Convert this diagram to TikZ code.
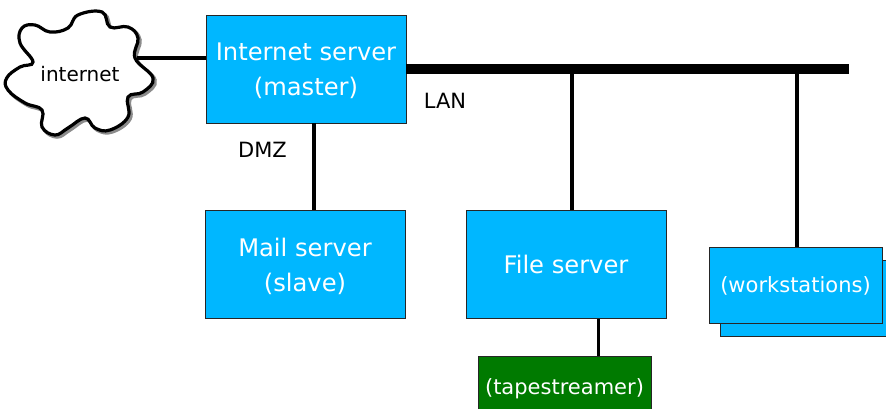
\documentclass[tikz,border=0pt]{standalone}
\usepackage{fontspec}
\setmainfont{DejaVu Sans}
\usetikzlibrary{positioning}
\definecolor{boxblue}{RGB}{0,183,255}
\definecolor{tapegreen}{RGB}{0,122,0}
\newcommand{\cloudpath}{(6.7,78) (20,67) (33,62) (20,43) (22,28) (35,25) (50,32) (68,28) (78,15) (102,12) (110,27) (128,27) (138,38) (135,58) (153,78) (143,92) (128,97) (128,117) (110,130) (95,128) (85,118) (68,128) (55,135) (42,127) (42,110) (25,103) (8,90)}
\begin{document}
\begin{tikzpicture}[x=1pt,y=-1pt]
    \tikzstyle{server} = [rectangle, draw=black!85, fill=boxblue, text=white,
    minimum width=200pt, minimum height=108pt, inner sep=0pt, text depth=0pt,
    font=\fontsize{24.2}{35}\selectfont, align=center]
    \tikzstyle{small} = [rectangle, draw=black!85, text=white,
    minimum width=173pt, inner sep=0pt, text depth=0pt,
    font=\fontsize{21}{25}\selectfont, align=center]
    \tikzstyle{label} = [font=\fontsize{21}{25}\selectfont, inner sep=0pt]
    \tikzstyle{line} = [draw, line width=3.5pt]

    \useasboundingbox (0,0) rectangle (886,408);

    % Cloud
    \draw[line width=3.5pt, color=black!45, xshift=2pt, yshift=-2pt] plot[smooth cycle, tension=0.7] coordinates {\cloudpath};
    \draw[line width=3.2pt, fill=white] plot[smooth cycle, tension=0.7] coordinates {\cloudpath};
    \node[label, font=\fontsize{20}{25}\selectfont] (internet) at (80,74) {internet};
    \coordinate (cloudend) at (137,58);

    % Servers
    \node[server] (master) at (306,69) {Internet server\\(master)};
    \node[server] (mail) at (305,264.5) {Mail server\\(slave)};
    \node[server] (file) at (566,264.5) {File server};
    \node[small, fill=boxblue, minimum height=76pt] (back) at (806.5,298) {};
    \node[small, fill=boxblue, minimum height=76pt] (stations) at (795.5,285) {(workstations)};
    \node[small, fill=tapegreen, minimum height=60pt, anchor=north] (tape) at (564.5,356) {(tapestreamer)};

    % LAN bar
    \coordinate (barend) at (849,69);
    \draw[line width=10.5pt] (master.east) -- (barend);

    % Connectors
    \coordinate (dmztap) at (314,123);
    \coordinate (filetap) at (572,69);
    \coordinate (stationtap) at (797,69);
    \coordinate (tapetap) at (598.5,319);
    \path[line] (cloudend) -- (master.west |- cloudend);
    \path[line] (dmztap) -- (dmztap |- mail.north);
    \path[line] (filetap) -- (filetap |- file.north);
    \path[line] (stationtap) -- (stationtap |- stations.north);
    \path[line] (tapetap) -- (tapetap |- tape.north);

    % Labels
    \node[label] (lan) at (445,101) {LAN};
    \node[label] (dmz) at (262.5,150) {DMZ};
\end{tikzpicture}
\end{document}
